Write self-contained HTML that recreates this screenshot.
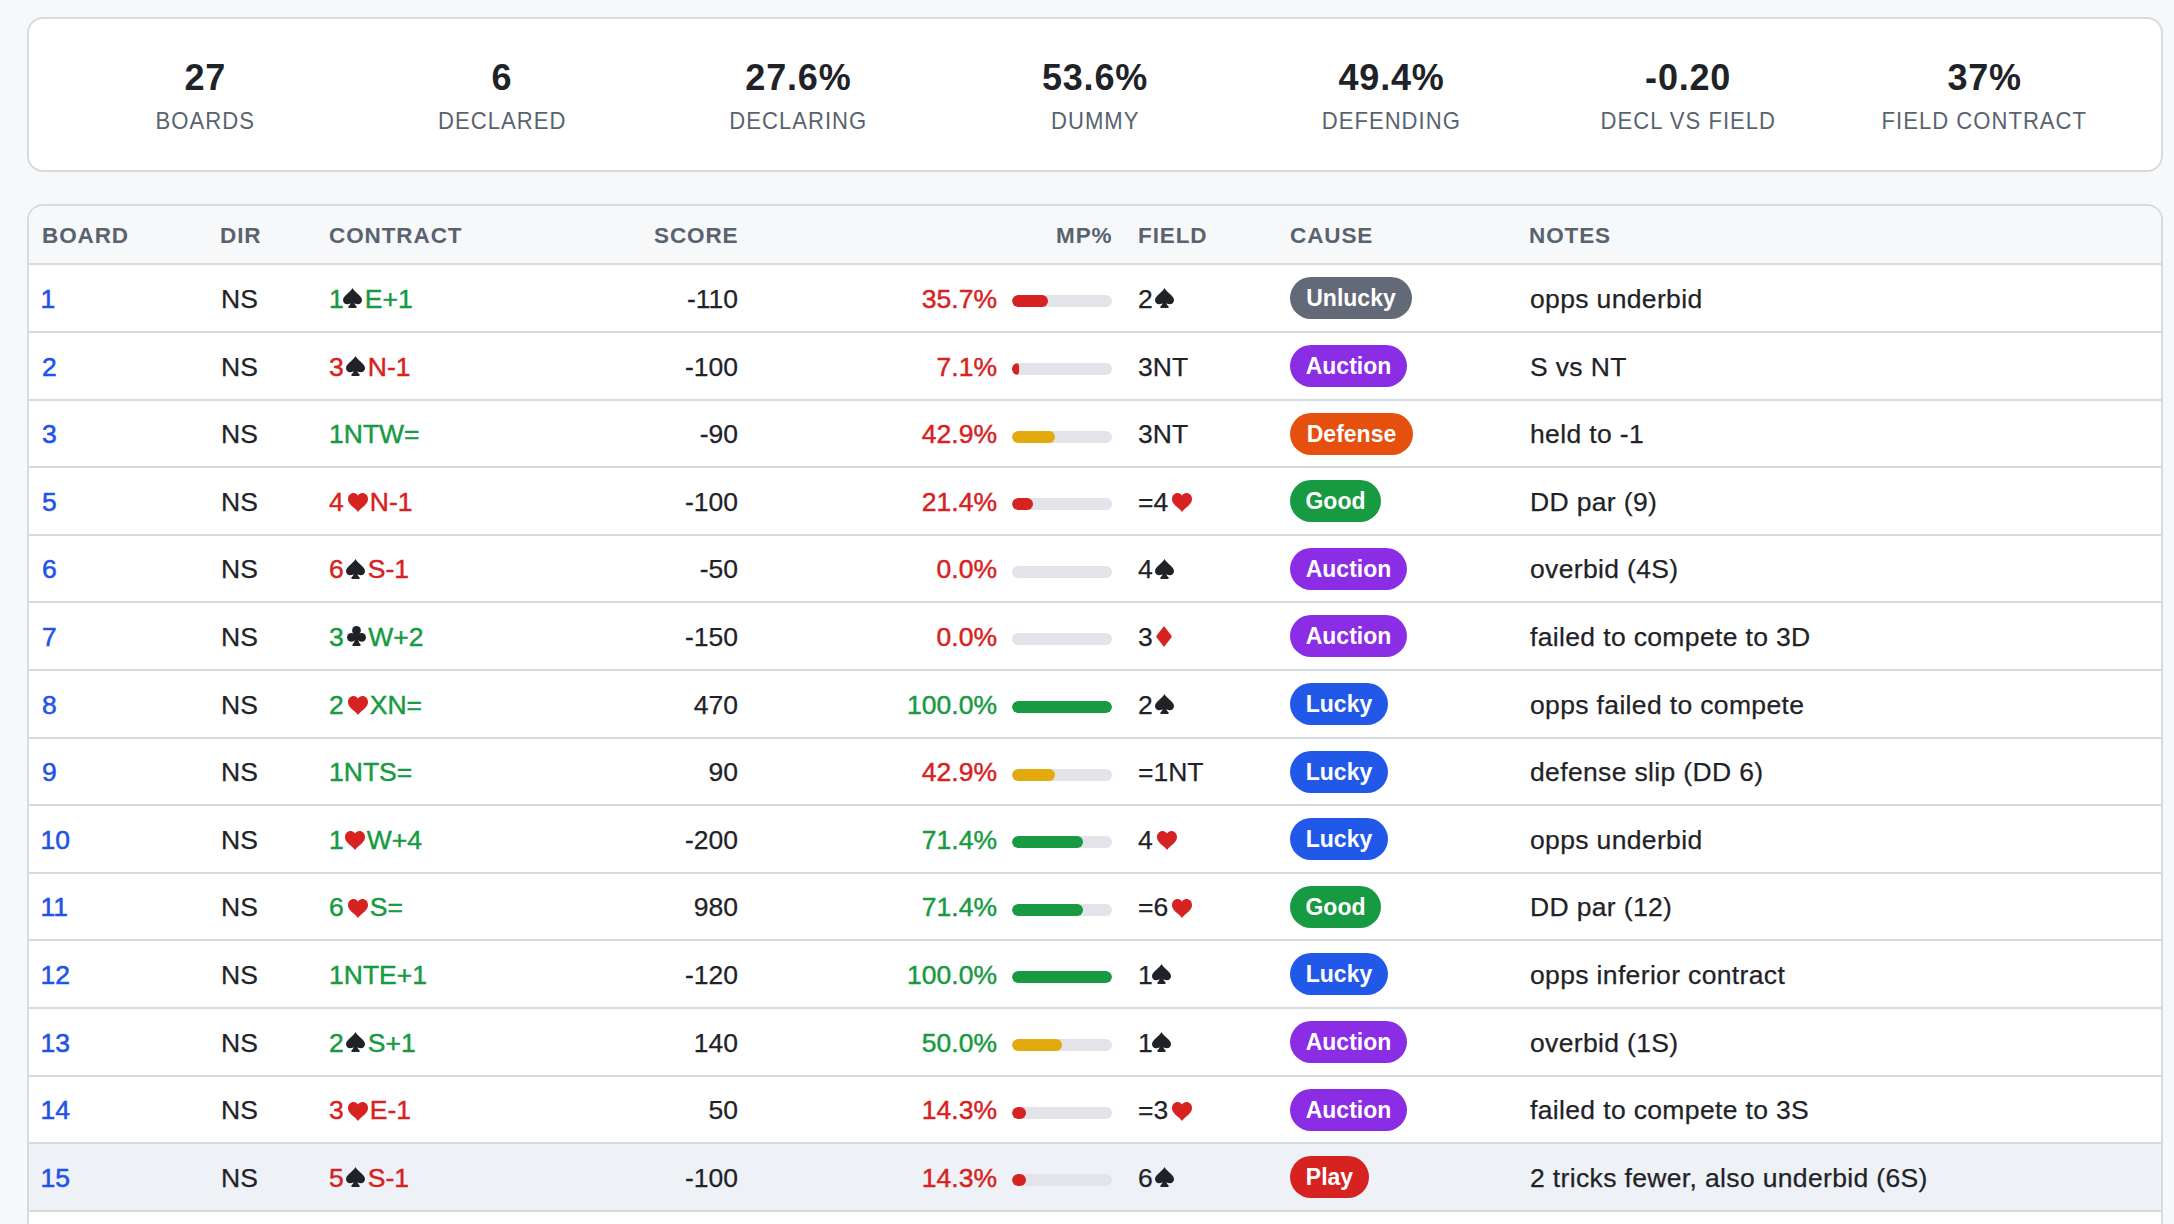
<!DOCTYPE html><html><head><meta charset="utf-8"><style>
@media (max-width:1600px){html{zoom:0.5}}
*{box-sizing:border-box;margin:0;padding:0}
html,body{width:2174px;height:1224px;overflow:hidden;background:#f6f8fa;font-family:"Liberation Sans",sans-serif;color:#1f2328}
.card{position:absolute;left:27px;width:2136px;background:#fff;border:2px solid #d6dbe0;border-radius:16px;overflow:hidden}
#stats{top:17px;height:155px}
.stat{position:absolute;top:0;width:296px;text-align:center}
.stat .v{position:absolute;left:0;right:0;top:39px;font-weight:bold;font-size:36px;line-height:40px;letter-spacing:0.8px;color:#1f2328}
.stat .l{position:absolute;left:0;right:0;top:88.7px;font-size:24px;line-height:26px;letter-spacing:1.1px;color:#59636e;transform:scaleX(0.92)}
#tbl{top:204px;height:1100px}
.thead{position:absolute;left:0;top:0;width:100%;height:59px;background:#f6f8fa;border-bottom:2px solid #d6dbe0}
.th{position:absolute;top:0;font-weight:bold;font-size:22.5px;line-height:26px;letter-spacing:0.9px;color:#59636e}
.row{position:absolute;left:0;width:100%;border-bottom:2px solid #d6dbe0;background:#fff}
.row.hl{background:#eef1f5}
.c{position:absolute;font-size:26.5px;line-height:30px;white-space:nowrap;-webkit-text-stroke:0.25px currentColor}
.b{color:#1f54e6;-webkit-text-stroke:0.55px currentColor}
.pct{-webkit-text-stroke:0.45px currentColor}
.g{color:#189a42}
.r{color:#d72222}
.ct{font-weight:normal;-webkit-text-stroke:0.45px currentColor}
.sd{color:#1f2328}
.sr{color:#d72222}
.suit{display:inline-block;vertical-align:-0.5px;margin:0 2.5px 0 2.5px}
.suit.h{vertical-align:-1.5px;margin-left:4px;margin-right:2px}
.suit.d{vertical-align:-1.5px;margin-left:3px}
.suit.cl{margin-left:3.5px;margin-right:2px}
.bar{position:absolute;width:100px;height:12px;border-radius:6px;background:#e2e4e9;overflow:hidden}
.fill{position:absolute;left:0;top:0;height:12px;border-radius:6px}
.fill.r{background:#d72222}.fill.g{background:#189a42}.fill.y{background:#e3aa0e}
.badge{position:absolute;height:42px;border-radius:21px;color:#fff;font-weight:bold;font-size:23px;line-height:42px;text-align:center;white-space:nowrap}
.Unlucky{background:#626a77}.Auction{background:#8a2de5}.Defense{background:#e5500f}.Good{background:#189a42}.Lucky{background:#2258e8}.Play{background:#d72222}
</style></head><body>
<div class="card" id="stats">
<div class="stat" style="left:28.00px;width:296.57px"><div class="v">27</div><div class="l">BOARDS</div></div>
<div class="stat" style="left:324.57px;width:296.57px"><div class="v">6</div><div class="l">DECLARED</div></div>
<div class="stat" style="left:621.14px;width:296.57px"><div class="v">27.6%</div><div class="l">DECLARING</div></div>
<div class="stat" style="left:917.71px;width:296.57px"><div class="v">53.6%</div><div class="l">DUMMY</div></div>
<div class="stat" style="left:1214.29px;width:296.57px"><div class="v">49.4%</div><div class="l">DEFENDING</div></div>
<div class="stat" style="left:1510.86px;width:296.57px"><div class="v">-0.20</div><div class="l">DECL VS FIELD</div></div>
<div class="stat" style="left:1807.43px;width:296.57px"><div class="v">37%</div><div class="l">FIELD CONTRACT</div></div>
</div>
<div class="card" id="tbl"><div class="thead">
<div class="th" style="left:13px;top:17px">BOARD</div>
<div class="th" style="left:191px;top:17px">DIR</div>
<div class="th" style="left:300px;top:17px">CONTRACT</div>
<div class="th" style="right:1422.5px;top:17px;text-align:right">SCORE</div>
<div class="th" style="right:1048.5px;top:17px;text-align:right">MP%</div>
<div class="th" style="left:1109px;top:17px">FIELD</div>
<div class="th" style="left:1261px;top:17px">CAUSE</div>
<div class="th" style="left:1500px;top:17px">NOTES</div>
</div>
<div class="row" style="top:59.40px;height:67.60px">
<div class="c b" style="left:11.5px;top:18.5px">1</div>
<div class="c" style="left:192px;top:18.5px">NS</div>
<div class="c ct g" style="left:300px;top:18.5px"><span style="margin-right:-3px">1</span><span class="sd"><svg class="suit" viewBox="0 0 19 20" width="19" height="20"><path d="M9.5 0C8.7 1.6 7.1 3.3 4.9 5.3 2.1 7.8 0 9.6 0 12.3 0 14.6 1.7 16.3 4 16.3c1.3 0 2.5-.4 3.6-1.1l-.1.4c-.3 1.2-.9 2-1.7 2.5-.4.3-.6.6-.6 1 0 .5.4.8.9.8h6.8c.5 0 .9-.3.9-.8 0-.4-.2-.7-.6-1-.8-.5-1.4-1.3-1.7-2.5l-.1-.4c1.1.7 2.3 1.1 3.6 1.1 2.3 0 4-1.7 4-4 0-2.7-2.1-4.5-4.9-7C11.9 3.3 10.3 1.6 9.5 0z" fill="currentColor"/></svg></span>E+1</div>
<div class="c" style="right:1423px;top:18.5px">-110</div>
<div class="c pct r" style="right:1164px;top:18.5px">35.7%</div>
<div class="bar" style="left:983px;top:30px"><div class="fill r" style="width:35.7px"></div></div>
<div class="c" style="left:1109px;top:18.5px">2<span class="sd"><svg class="suit" viewBox="0 0 19 20" width="19" height="20"><path d="M9.5 0C8.7 1.6 7.1 3.3 4.9 5.3 2.1 7.8 0 9.6 0 12.3 0 14.6 1.7 16.3 4 16.3c1.3 0 2.5-.4 3.6-1.1l-.1.4c-.3 1.2-.9 2-1.7 2.5-.4.3-.6.6-.6 1 0 .5.4.8.9.8h6.8c.5 0 .9-.3.9-.8 0-.4-.2-.7-.6-1-.8-.5-1.4-1.3-1.7-2.5l-.1-.4c1.1.7 2.3 1.1 3.6 1.1 2.3 0 4-1.7 4-4 0-2.7-2.1-4.5-4.9-7C11.9 3.3 10.3 1.6 9.5 0z" fill="currentColor"/></svg></span></div>
<div class="badge Unlucky" style="left:1261px;top:12px;width:122px">Unlucky</div>
<div class="c" style="left:1501px;top:18.5px;letter-spacing:0.35px">opps underbid</div>
</div>
<div class="row" style="top:127.00px;height:67.60px">
<div class="c b" style="left:13px;top:18.5px">2</div>
<div class="c" style="left:192px;top:18.5px">NS</div>
<div class="c ct r" style="left:300px;top:18.5px">3<span class="sd"><svg class="suit" viewBox="0 0 19 20" width="19" height="20"><path d="M9.5 0C8.7 1.6 7.1 3.3 4.9 5.3 2.1 7.8 0 9.6 0 12.3 0 14.6 1.7 16.3 4 16.3c1.3 0 2.5-.4 3.6-1.1l-.1.4c-.3 1.2-.9 2-1.7 2.5-.4.3-.6.6-.6 1 0 .5.4.8.9.8h6.8c.5 0 .9-.3.9-.8 0-.4-.2-.7-.6-1-.8-.5-1.4-1.3-1.7-2.5l-.1-.4c1.1.7 2.3 1.1 3.6 1.1 2.3 0 4-1.7 4-4 0-2.7-2.1-4.5-4.9-7C11.9 3.3 10.3 1.6 9.5 0z" fill="currentColor"/></svg></span>N-1</div>
<div class="c" style="right:1423px;top:18.5px">-100</div>
<div class="c pct r" style="right:1164px;top:18.5px">7.1%</div>
<div class="bar" style="left:983px;top:30px"><div class="fill r" style="width:7.1px"></div></div>
<div class="c" style="left:1109px;top:18.5px">3NT</div>
<div class="badge Auction" style="left:1261px;top:12px;width:117px">Auction</div>
<div class="c" style="left:1501px;top:18.5px;letter-spacing:0.35px">S vs NT</div>
</div>
<div class="row" style="top:194.60px;height:67.60px">
<div class="c b" style="left:13px;top:18.5px">3</div>
<div class="c" style="left:192px;top:18.5px">NS</div>
<div class="c ct g" style="left:300px;top:18.5px"><span style="margin-right:0px">1</span>NTW=</div>
<div class="c" style="right:1423px;top:18.5px">-90</div>
<div class="c pct r" style="right:1164px;top:18.5px">42.9%</div>
<div class="bar" style="left:983px;top:30px"><div class="fill y" style="width:42.9px"></div></div>
<div class="c" style="left:1109px;top:18.5px">3NT</div>
<div class="badge Defense" style="left:1261px;top:12px;width:123px">Defense</div>
<div class="c" style="left:1501px;top:18.5px;letter-spacing:0.35px">held to -1</div>
</div>
<div class="row" style="top:262.20px;height:67.60px">
<div class="c b" style="left:13px;top:18.5px">5</div>
<div class="c" style="left:192px;top:18.5px">NS</div>
<div class="c ct r" style="left:300px;top:18.5px">4<span class="sr"><svg class="suit h" viewBox="0 0 20 19" width="20" height="19"><path d="M10 2.6C9 1 7.5 0 5.6 0 2.5 0 0 2.5 0 5.9c0 3.8 3.2 6.5 6.5 9.4 1.3 1.1 2.5 2.3 3.5 3.7 1-1.4 2.2-2.6 3.5-3.7 3.3-2.9 6.5-5.6 6.5-9.4C20 2.5 17.5 0 14.4 0 12.5 0 11 1 10 2.6z" fill="currentColor"/></svg></span>N-1</div>
<div class="c" style="right:1423px;top:18.5px">-100</div>
<div class="c pct r" style="right:1164px;top:18.5px">21.4%</div>
<div class="bar" style="left:983px;top:30px"><div class="fill r" style="width:21.4px"></div></div>
<div class="c" style="left:1109px;top:18.5px">=4<span class="sr"><svg class="suit h" viewBox="0 0 20 19" width="20" height="19"><path d="M10 2.6C9 1 7.5 0 5.6 0 2.5 0 0 2.5 0 5.9c0 3.8 3.2 6.5 6.5 9.4 1.3 1.1 2.5 2.3 3.5 3.7 1-1.4 2.2-2.6 3.5-3.7 3.3-2.9 6.5-5.6 6.5-9.4C20 2.5 17.5 0 14.4 0 12.5 0 11 1 10 2.6z" fill="currentColor"/></svg></span></div>
<div class="badge Good" style="left:1261px;top:12px;width:91px">Good</div>
<div class="c" style="left:1501px;top:18.5px;letter-spacing:0.35px">DD par (9)</div>
</div>
<div class="row" style="top:329.80px;height:67.60px">
<div class="c b" style="left:13px;top:18.5px">6</div>
<div class="c" style="left:192px;top:18.5px">NS</div>
<div class="c ct r" style="left:300px;top:18.5px">6<span class="sd"><svg class="suit" viewBox="0 0 19 20" width="19" height="20"><path d="M9.5 0C8.7 1.6 7.1 3.3 4.9 5.3 2.1 7.8 0 9.6 0 12.3 0 14.6 1.7 16.3 4 16.3c1.3 0 2.5-.4 3.6-1.1l-.1.4c-.3 1.2-.9 2-1.7 2.5-.4.3-.6.6-.6 1 0 .5.4.8.9.8h6.8c.5 0 .9-.3.9-.8 0-.4-.2-.7-.6-1-.8-.5-1.4-1.3-1.7-2.5l-.1-.4c1.1.7 2.3 1.1 3.6 1.1 2.3 0 4-1.7 4-4 0-2.7-2.1-4.5-4.9-7C11.9 3.3 10.3 1.6 9.5 0z" fill="currentColor"/></svg></span>S-1</div>
<div class="c" style="right:1423px;top:18.5px">-50</div>
<div class="c pct r" style="right:1164px;top:18.5px">0.0%</div>
<div class="bar" style="left:983px;top:30px"><div class="fill r" style="width:0px"></div></div>
<div class="c" style="left:1109px;top:18.5px">4<span class="sd"><svg class="suit" viewBox="0 0 19 20" width="19" height="20"><path d="M9.5 0C8.7 1.6 7.1 3.3 4.9 5.3 2.1 7.8 0 9.6 0 12.3 0 14.6 1.7 16.3 4 16.3c1.3 0 2.5-.4 3.6-1.1l-.1.4c-.3 1.2-.9 2-1.7 2.5-.4.3-.6.6-.6 1 0 .5.4.8.9.8h6.8c.5 0 .9-.3.9-.8 0-.4-.2-.7-.6-1-.8-.5-1.4-1.3-1.7-2.5l-.1-.4c1.1.7 2.3 1.1 3.6 1.1 2.3 0 4-1.7 4-4 0-2.7-2.1-4.5-4.9-7C11.9 3.3 10.3 1.6 9.5 0z" fill="currentColor"/></svg></span></div>
<div class="badge Auction" style="left:1261px;top:12px;width:117px">Auction</div>
<div class="c" style="left:1501px;top:18.5px;letter-spacing:0.35px">overbid (4S)</div>
</div>
<div class="row" style="top:397.40px;height:67.60px">
<div class="c b" style="left:13px;top:18.5px">7</div>
<div class="c" style="left:192px;top:18.5px">NS</div>
<div class="c ct g" style="left:300px;top:18.5px">3<span class="sd"><svg class="suit cl" viewBox="0 0 19 20" width="19" height="20"><g fill="currentColor"><circle cx="9.5" cy="4.4" r="4.4"/><circle cx="4.35" cy="11.3" r="4.35"/><circle cx="14.65" cy="11.3" r="4.35"/><rect x="6" y="7.5" width="7" height="6.5"/><path d="M7.8 12.5c-.1 2.400-.5 3.900-1.900 5.500-.4.3-.7.6-.7 1.100 0 .5.4.8.9.8h6.800c.5 0 .9-.3.9-.8 0-.5-.3-.8-.7-1.100-1.400-1.600-1.800-3.100-1.900-5.500z"/></g></svg></span>W+2</div>
<div class="c" style="right:1423px;top:18.5px">-150</div>
<div class="c pct r" style="right:1164px;top:18.5px">0.0%</div>
<div class="bar" style="left:983px;top:30px"><div class="fill r" style="width:0px"></div></div>
<div class="c" style="left:1109px;top:18.5px">3<span class="sr"><svg class="suit d" viewBox="0 0 16 21" width="16" height="21"><path d="M8 0l7.3 9.5q.7 1 0 2L8 21 .7 11.5q-.7-1 0-2z" fill="currentColor"/></svg></span></div>
<div class="badge Auction" style="left:1261px;top:12px;width:117px">Auction</div>
<div class="c" style="left:1501px;top:18.5px;letter-spacing:0.35px">failed to compete to 3D</div>
</div>
<div class="row" style="top:465.00px;height:67.60px">
<div class="c b" style="left:13px;top:18.5px">8</div>
<div class="c" style="left:192px;top:18.5px">NS</div>
<div class="c ct g" style="left:300px;top:18.5px">2<span class="sr"><svg class="suit h" viewBox="0 0 20 19" width="20" height="19"><path d="M10 2.6C9 1 7.5 0 5.6 0 2.5 0 0 2.5 0 5.9c0 3.8 3.2 6.5 6.5 9.4 1.3 1.1 2.5 2.3 3.5 3.7 1-1.4 2.2-2.6 3.5-3.7 3.3-2.9 6.5-5.6 6.5-9.4C20 2.5 17.5 0 14.4 0 12.5 0 11 1 10 2.6z" fill="currentColor"/></svg></span>XN=</div>
<div class="c" style="right:1423px;top:18.5px">470</div>
<div class="c pct g" style="right:1164px;top:18.5px">100.0%</div>
<div class="bar" style="left:983px;top:30px"><div class="fill g" style="width:100px"></div></div>
<div class="c" style="left:1109px;top:18.5px">2<span class="sd"><svg class="suit" viewBox="0 0 19 20" width="19" height="20"><path d="M9.5 0C8.7 1.6 7.1 3.3 4.9 5.3 2.1 7.8 0 9.6 0 12.3 0 14.6 1.7 16.3 4 16.3c1.3 0 2.5-.4 3.6-1.1l-.1.4c-.3 1.2-.9 2-1.7 2.5-.4.3-.6.6-.6 1 0 .5.4.8.9.8h6.8c.5 0 .9-.3.9-.8 0-.4-.2-.7-.6-1-.8-.5-1.4-1.3-1.7-2.5l-.1-.4c1.1.7 2.3 1.1 3.6 1.1 2.3 0 4-1.7 4-4 0-2.7-2.1-4.5-4.9-7C11.9 3.3 10.3 1.6 9.5 0z" fill="currentColor"/></svg></span></div>
<div class="badge Lucky" style="left:1261px;top:12px;width:98px">Lucky</div>
<div class="c" style="left:1501px;top:18.5px;letter-spacing:0.35px">opps failed to compete</div>
</div>
<div class="row" style="top:532.60px;height:67.60px">
<div class="c b" style="left:13px;top:18.5px">9</div>
<div class="c" style="left:192px;top:18.5px">NS</div>
<div class="c ct g" style="left:300px;top:18.5px"><span style="margin-right:0px">1</span>NTS=</div>
<div class="c" style="right:1423px;top:18.5px">90</div>
<div class="c pct r" style="right:1164px;top:18.5px">42.9%</div>
<div class="bar" style="left:983px;top:30px"><div class="fill y" style="width:42.9px"></div></div>
<div class="c" style="left:1109px;top:18.5px">=1NT</div>
<div class="badge Lucky" style="left:1261px;top:12px;width:98px">Lucky</div>
<div class="c" style="left:1501px;top:18.5px;letter-spacing:0.35px">defense slip (DD 6)</div>
</div>
<div class="row" style="top:600.20px;height:67.60px">
<div class="c b" style="left:11.5px;top:18.5px">10</div>
<div class="c" style="left:192px;top:18.5px">NS</div>
<div class="c ct g" style="left:300px;top:18.5px"><span style="margin-right:-3px">1</span><span class="sr"><svg class="suit h" viewBox="0 0 20 19" width="20" height="19"><path d="M10 2.6C9 1 7.5 0 5.6 0 2.5 0 0 2.5 0 5.9c0 3.8 3.2 6.5 6.5 9.4 1.3 1.1 2.5 2.3 3.5 3.7 1-1.4 2.2-2.6 3.5-3.7 3.3-2.9 6.5-5.6 6.5-9.4C20 2.5 17.5 0 14.4 0 12.5 0 11 1 10 2.6z" fill="currentColor"/></svg></span>W+4</div>
<div class="c" style="right:1423px;top:18.5px">-200</div>
<div class="c pct g" style="right:1164px;top:18.5px">71.4%</div>
<div class="bar" style="left:983px;top:30px"><div class="fill g" style="width:71.4px"></div></div>
<div class="c" style="left:1109px;top:18.5px">4<span class="sr"><svg class="suit h" viewBox="0 0 20 19" width="20" height="19"><path d="M10 2.6C9 1 7.5 0 5.6 0 2.5 0 0 2.5 0 5.9c0 3.8 3.2 6.5 6.5 9.4 1.3 1.1 2.5 2.3 3.5 3.7 1-1.4 2.2-2.6 3.5-3.7 3.3-2.9 6.5-5.6 6.5-9.4C20 2.5 17.5 0 14.4 0 12.5 0 11 1 10 2.6z" fill="currentColor"/></svg></span></div>
<div class="badge Lucky" style="left:1261px;top:12px;width:98px">Lucky</div>
<div class="c" style="left:1501px;top:18.5px;letter-spacing:0.35px">opps underbid</div>
</div>
<div class="row" style="top:667.80px;height:67.60px">
<div class="c b" style="left:11.5px;top:18.5px">11</div>
<div class="c" style="left:192px;top:18.5px">NS</div>
<div class="c ct g" style="left:300px;top:18.5px">6<span class="sr"><svg class="suit h" viewBox="0 0 20 19" width="20" height="19"><path d="M10 2.6C9 1 7.5 0 5.6 0 2.5 0 0 2.5 0 5.9c0 3.8 3.2 6.5 6.5 9.4 1.3 1.1 2.5 2.3 3.5 3.7 1-1.4 2.2-2.6 3.5-3.7 3.3-2.9 6.5-5.6 6.5-9.4C20 2.5 17.5 0 14.4 0 12.5 0 11 1 10 2.6z" fill="currentColor"/></svg></span>S=</div>
<div class="c" style="right:1423px;top:18.5px">980</div>
<div class="c pct g" style="right:1164px;top:18.5px">71.4%</div>
<div class="bar" style="left:983px;top:30px"><div class="fill g" style="width:71.4px"></div></div>
<div class="c" style="left:1109px;top:18.5px">=6<span class="sr"><svg class="suit h" viewBox="0 0 20 19" width="20" height="19"><path d="M10 2.6C9 1 7.5 0 5.6 0 2.5 0 0 2.5 0 5.9c0 3.8 3.2 6.5 6.5 9.4 1.3 1.1 2.5 2.3 3.5 3.7 1-1.4 2.2-2.6 3.5-3.7 3.3-2.9 6.5-5.6 6.5-9.4C20 2.5 17.5 0 14.4 0 12.5 0 11 1 10 2.6z" fill="currentColor"/></svg></span></div>
<div class="badge Good" style="left:1261px;top:12px;width:91px">Good</div>
<div class="c" style="left:1501px;top:18.5px;letter-spacing:0.35px">DD par (12)</div>
</div>
<div class="row" style="top:735.40px;height:67.60px">
<div class="c b" style="left:11.5px;top:18.5px">12</div>
<div class="c" style="left:192px;top:18.5px">NS</div>
<div class="c ct g" style="left:300px;top:18.5px"><span style="margin-right:0px">1</span>NTE+1</div>
<div class="c" style="right:1423px;top:18.5px">-120</div>
<div class="c pct g" style="right:1164px;top:18.5px">100.0%</div>
<div class="bar" style="left:983px;top:30px"><div class="fill g" style="width:100px"></div></div>
<div class="c" style="left:1109px;top:18.5px"><span style="margin-right:-3px">1</span><span class="sd"><svg class="suit" viewBox="0 0 19 20" width="19" height="20"><path d="M9.5 0C8.7 1.6 7.1 3.3 4.9 5.3 2.1 7.8 0 9.6 0 12.3 0 14.6 1.7 16.3 4 16.3c1.3 0 2.5-.4 3.6-1.1l-.1.4c-.3 1.2-.9 2-1.7 2.5-.4.3-.6.6-.6 1 0 .5.4.8.9.8h6.8c.5 0 .9-.3.9-.8 0-.4-.2-.7-.6-1-.8-.5-1.4-1.3-1.7-2.5l-.1-.4c1.1.7 2.3 1.1 3.6 1.1 2.3 0 4-1.7 4-4 0-2.7-2.1-4.5-4.9-7C11.9 3.3 10.3 1.6 9.5 0z" fill="currentColor"/></svg></span></div>
<div class="badge Lucky" style="left:1261px;top:12px;width:98px">Lucky</div>
<div class="c" style="left:1501px;top:18.5px;letter-spacing:0.35px">opps inferior contract</div>
</div>
<div class="row" style="top:803.00px;height:67.60px">
<div class="c b" style="left:11.5px;top:18.5px">13</div>
<div class="c" style="left:192px;top:18.5px">NS</div>
<div class="c ct g" style="left:300px;top:18.5px">2<span class="sd"><svg class="suit" viewBox="0 0 19 20" width="19" height="20"><path d="M9.5 0C8.7 1.6 7.1 3.3 4.9 5.3 2.1 7.8 0 9.6 0 12.3 0 14.6 1.7 16.3 4 16.3c1.3 0 2.5-.4 3.6-1.1l-.1.4c-.3 1.2-.9 2-1.7 2.5-.4.3-.6.6-.6 1 0 .5.4.8.9.8h6.8c.5 0 .9-.3.9-.8 0-.4-.2-.7-.6-1-.8-.5-1.4-1.3-1.7-2.5l-.1-.4c1.1.7 2.3 1.1 3.6 1.1 2.3 0 4-1.7 4-4 0-2.7-2.1-4.5-4.9-7C11.9 3.3 10.3 1.6 9.5 0z" fill="currentColor"/></svg></span>S+1</div>
<div class="c" style="right:1423px;top:18.5px">140</div>
<div class="c pct g" style="right:1164px;top:18.5px">50.0%</div>
<div class="bar" style="left:983px;top:30px"><div class="fill y" style="width:50px"></div></div>
<div class="c" style="left:1109px;top:18.5px"><span style="margin-right:-3px">1</span><span class="sd"><svg class="suit" viewBox="0 0 19 20" width="19" height="20"><path d="M9.5 0C8.7 1.6 7.1 3.3 4.9 5.3 2.1 7.8 0 9.6 0 12.3 0 14.6 1.7 16.3 4 16.3c1.3 0 2.5-.4 3.6-1.1l-.1.4c-.3 1.2-.9 2-1.7 2.5-.4.3-.6.6-.6 1 0 .5.4.8.9.8h6.8c.5 0 .9-.3.9-.8 0-.4-.2-.7-.6-1-.8-.5-1.4-1.3-1.7-2.5l-.1-.4c1.1.7 2.3 1.1 3.6 1.1 2.3 0 4-1.7 4-4 0-2.7-2.1-4.5-4.9-7C11.9 3.3 10.3 1.6 9.5 0z" fill="currentColor"/></svg></span></div>
<div class="badge Auction" style="left:1261px;top:12px;width:117px">Auction</div>
<div class="c" style="left:1501px;top:18.5px;letter-spacing:0.35px">overbid (1S)</div>
</div>
<div class="row" style="top:870.60px;height:67.60px">
<div class="c b" style="left:11.5px;top:18.5px">14</div>
<div class="c" style="left:192px;top:18.5px">NS</div>
<div class="c ct r" style="left:300px;top:18.5px">3<span class="sr"><svg class="suit h" viewBox="0 0 20 19" width="20" height="19"><path d="M10 2.6C9 1 7.5 0 5.6 0 2.5 0 0 2.5 0 5.9c0 3.8 3.2 6.5 6.5 9.4 1.3 1.1 2.5 2.3 3.5 3.7 1-1.4 2.2-2.6 3.5-3.7 3.3-2.9 6.5-5.6 6.5-9.4C20 2.5 17.5 0 14.4 0 12.5 0 11 1 10 2.6z" fill="currentColor"/></svg></span>E-1</div>
<div class="c" style="right:1423px;top:18.5px">50</div>
<div class="c pct r" style="right:1164px;top:18.5px">14.3%</div>
<div class="bar" style="left:983px;top:30px"><div class="fill r" style="width:14.3px"></div></div>
<div class="c" style="left:1109px;top:18.5px">=3<span class="sr"><svg class="suit h" viewBox="0 0 20 19" width="20" height="19"><path d="M10 2.6C9 1 7.5 0 5.6 0 2.5 0 0 2.5 0 5.9c0 3.8 3.2 6.5 6.5 9.4 1.3 1.1 2.5 2.3 3.5 3.7 1-1.4 2.2-2.6 3.5-3.7 3.3-2.9 6.5-5.6 6.5-9.4C20 2.5 17.5 0 14.4 0 12.5 0 11 1 10 2.6z" fill="currentColor"/></svg></span></div>
<div class="badge Auction" style="left:1261px;top:12px;width:117px">Auction</div>
<div class="c" style="left:1501px;top:18.5px;letter-spacing:0.35px">failed to compete to 3S</div>
</div>
<div class="row hl" style="top:938.20px;height:67.60px">
<div class="c b" style="left:11.5px;top:18.5px">15</div>
<div class="c" style="left:192px;top:18.5px">NS</div>
<div class="c ct r" style="left:300px;top:18.5px">5<span class="sd"><svg class="suit" viewBox="0 0 19 20" width="19" height="20"><path d="M9.5 0C8.7 1.6 7.1 3.3 4.9 5.3 2.1 7.8 0 9.6 0 12.3 0 14.6 1.7 16.3 4 16.3c1.3 0 2.5-.4 3.6-1.1l-.1.4c-.3 1.2-.9 2-1.7 2.5-.4.3-.6.6-.6 1 0 .5.4.8.9.8h6.8c.5 0 .9-.3.9-.8 0-.4-.2-.7-.6-1-.8-.5-1.4-1.3-1.7-2.5l-.1-.4c1.1.7 2.3 1.1 3.6 1.1 2.3 0 4-1.7 4-4 0-2.7-2.1-4.5-4.9-7C11.9 3.3 10.3 1.6 9.5 0z" fill="currentColor"/></svg></span>S-1</div>
<div class="c" style="right:1423px;top:18.5px">-100</div>
<div class="c pct r" style="right:1164px;top:18.5px">14.3%</div>
<div class="bar" style="left:983px;top:30px"><div class="fill r" style="width:14.3px"></div></div>
<div class="c" style="left:1109px;top:18.5px">6<span class="sd"><svg class="suit" viewBox="0 0 19 20" width="19" height="20"><path d="M9.5 0C8.7 1.6 7.1 3.3 4.9 5.3 2.1 7.8 0 9.6 0 12.3 0 14.6 1.7 16.3 4 16.3c1.3 0 2.5-.4 3.6-1.1l-.1.4c-.3 1.2-.9 2-1.7 2.5-.4.3-.6.6-.6 1 0 .5.4.8.9.8h6.8c.5 0 .9-.3.9-.8 0-.4-.2-.7-.6-1-.8-.5-1.4-1.3-1.7-2.5l-.1-.4c1.1.7 2.3 1.1 3.6 1.1 2.3 0 4-1.7 4-4 0-2.7-2.1-4.5-4.9-7C11.9 3.3 10.3 1.6 9.5 0z" fill="currentColor"/></svg></span></div>
<div class="badge Play" style="left:1261px;top:12px;width:79px">Play</div>
<div class="c" style="left:1501px;top:18.5px;letter-spacing:0.35px">2 tricks fewer, also underbid (6S)</div>
</div>
<div class="row" style="top:1005.80px;height:67.60px">
</div>
</div></body></html>
